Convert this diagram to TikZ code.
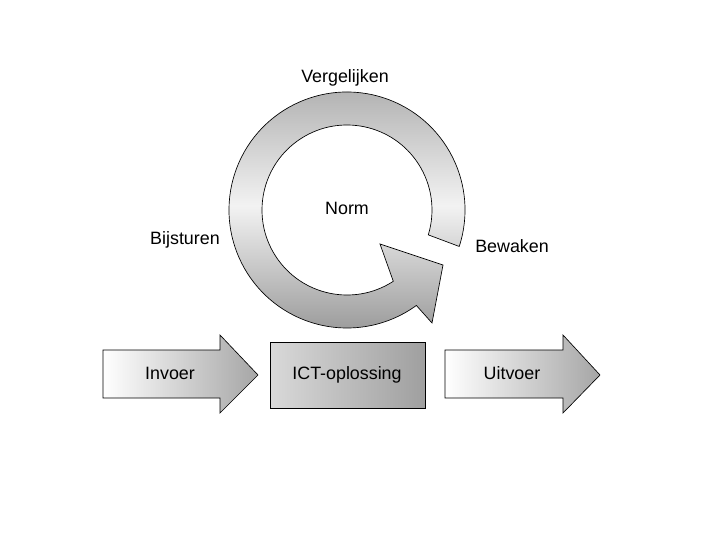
\documentclass[tikz,border=0pt]{standalone}
\usepackage{fontspec}
\setmainfont{Liberation Sans}
\begin{document}
\begin{tikzpicture}[x=0.75pt,y=0.75pt,
  lbl/.style={font=\fontsize{13.4}{15}\selectfont, inner sep=0pt, text height=9.6pt, text depth=2.6pt},
  blk/.style={draw=black, line width=0.5pt, left color=white, right color=gray!70},
  ring/.style={draw=black, line width=0.5pt, top color=gray!65, bottom color=gray!80, middle color=gray!10}]
\useasboundingbox (0,0) rectangle (720,540);
% ring arrow (y-up coordinates, centre 347,330)
\path[ring] ([shift={(347,330)}]-18:118) arc[start angle=-18, end angle=306, radius=118]
  -- (432,217) -- (443,275) -- (380,296)
  -- ([shift={(347,330)}]303:85) arc[start angle=303, end angle=-17, radius=85] -- cycle;
% input arrow
\path[blk] (103,190) -- (220,190) -- (220,205) -- (258,165) -- (220,127) -- (220,142) -- (103,142) -- cycle;
% box
\path[draw=black, line width=0.5pt, left color=gray!30, right color=gray!75] (270,132) rectangle (425,198);
% output arrow
\path[blk] (445,190) -- (563,190) -- (563,205) -- (600,165) -- (563,127) -- (563,142) -- (445,142) -- cycle;
\node[lbl] (verg) at (345,462) {Vergelijken};
\node[lbl] (norm) at (347,330) {Norm};
\node[lbl] (bijs) at (185,300) {Bijsturen};
\node[lbl] (bew) at (512,292) {Bewaken};
\node[lbl] (inv) at (170,165) {Invoer};
\node[lbl] (ict) at (347,165) {ICT-oplossing};
\node[lbl] (uit) at (512,165) {Uitvoer};
\end{tikzpicture}
\end{document}
